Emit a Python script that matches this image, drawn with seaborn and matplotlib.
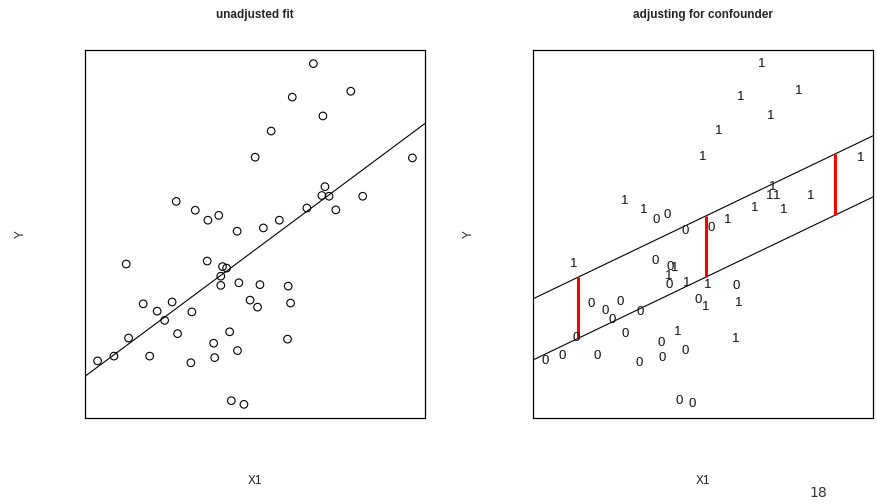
import numpy as np
import pandas as pd
import matplotlib
matplotlib.use("Agg")
import matplotlib.pyplot as plt
import seaborn as sns

# Values (arbitrary units, 0-10 scale)
x1 = [6.70, 7.80, 6.08, 6.98, 5.46, 4.99, 9.61, 2.67, 3.23, 3.60,
      3.92, 4.46, 5.23, 5.70, 6.51, 7.04, 6.95, 7.16, 7.36, 8.15,
      1.20, 3.58, 4.03, 4.15, 3.98, 3.98, 4.51, 5.13, 5.96, 1.70,
      2.55, 2.11, 2.33, 3.13, 4.84, 5.06, 6.03, 1.27, 2.71, 4.24,
      3.77, 5.94, 0.36, 0.84, 1.89, 3.10, 3.80, 4.47, 4.29, 4.66]
y = [9.63, 8.88, 8.72, 8.21, 7.80, 7.09, 7.07, 5.89, 5.65, 5.38,
     5.51, 5.08, 5.17, 5.38, 5.71, 6.29, 6.05, 6.03, 5.66, 6.03,
     4.19, 4.27, 4.12, 4.08, 3.86, 3.61, 3.68, 3.63, 3.59, 3.11,
     3.16, 2.91, 2.66, 2.89, 3.21, 3.02, 3.13, 2.18, 2.30, 2.35,
     2.04, 2.15, 1.56, 1.69, 1.69, 1.51, 1.65, 1.84, 0.48, 0.38]
z = [1, 1, 1, 1, 1, 1, 1, 1, 1, 0,
     0, 0, 0, 1, 1, 1, 1, 1, 1, 1,
     1, 0, 0, 1, 1, 0, 1, 1, 0, 0,
     0, 0, 0, 0, 0, 1, 1, 0, 0, 1,
     0, 1, 0, 0, 0, 0, 0, 0, 0, 0]

# adjusted fit as drawn in the reference: Y = a + b*X1 + c*Z
adj_intercept = 1.59
adj_slope = 0.443
adj_group_shift = 1.66
red_x = [1.30, 5.08, 8.85]

df = pd.DataFrame({"X1": x1, "Y": y, "Z": z})

sns.set_style("white")
plt.rcParams["font.family"] = ["Liberation Sans", "DejaVu Sans"]

fig = plt.figure(figsize=(8.77, 5.04), dpi=100)
ax1 = fig.add_axes([85 / 877, 86 / 504, 340 / 877, 368 / 504])
ax2 = fig.add_axes([533 / 877, 86 / 504, 340 / 877, 368 / 504])

# R-like limits: data range plus 4%
xr = df["X1"].max() - df["X1"].min()
yr = df["Y"].max() - df["Y"].min()
xlim = (df["X1"].min() - 0.04 * xr, df["X1"].max() + 0.04 * xr)
ylim = (df["Y"].min() - 0.04 * yr, df["Y"].max() + 0.04 * yr)

# unadjusted fit
sns.scatterplot(data=df, x="X1", y="Y", ax=ax1, marker="o", s=30,
                facecolor="none", edgecolor="black", linewidth=0.8)
b1, b0 = np.polyfit(df["X1"], df["Y"], 1)
ax1.axline((0, b0), slope=b1, color="black", lw=0.8)

# adjusting for confounder
for xv, yv, zv in zip(x1, y, z):
    ax2.text(xv, yv, str(zv), ha="center", va="center", fontsize=9.5,
             color="#111111")
ax2.axline((0, adj_intercept), slope=adj_slope, color="black", lw=0.8)
ax2.axline((0, adj_intercept + adj_group_shift), slope=adj_slope,
           color="black", lw=0.8)
rx = np.array(red_x)
ax2.vlines(rx, adj_intercept + adj_slope * rx,
           adj_intercept + adj_group_shift + adj_slope * rx,
           color="red", lw=2.2)

titles = ["unadjusted fit", "adjusting for confounder"]
for ax, t in zip((ax1, ax2), titles):
    ax.set_xlim(xlim)
    ax.set_ylim(ylim)
    ax.set_xticks([])
    ax.set_yticks([])
    ax.set_xlabel("")
    ax.set_ylabel("")
    for s in ax.spines.values():
        s.set_visible(True)
        s.set_color("black")
        s.set_linewidth(0.9)
    pos = ax.get_position()
    cx = (pos.x0 + pos.x1) / 2
    fig.text(cx, 1 - 15 / 504, t, fontsize=8.5, fontweight="bold",
             ha="center", va="center")
    fig.text(cx, 1 - 481 / 504, "X1", fontsize=8.5, ha="center", va="center")
    fig.text(pos.x0 - 64 / 877, (pos.y0 + pos.y1) / 2, "Y", fontsize=8.5,
             rotation=90, ha="center", va="center")

fig.text(818 / 877, 1 - 493 / 504, "18", fontsize=10, ha="center", va="center",
         family="DejaVu Sans", color="#333333")

fig.savefig("out.png", dpi=100)
